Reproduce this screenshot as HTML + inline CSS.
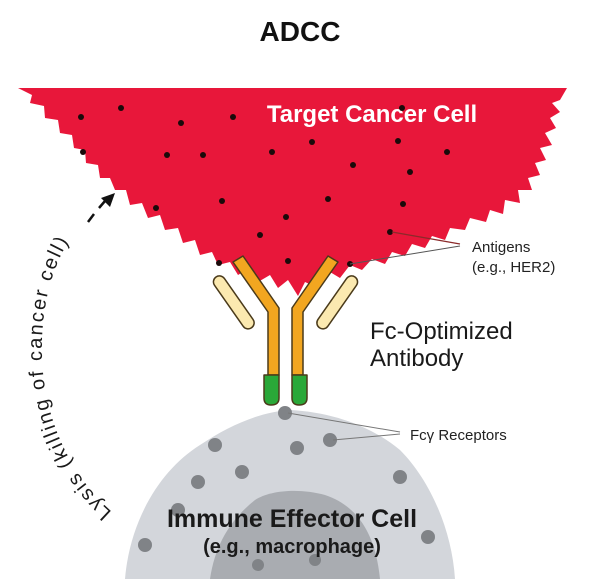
<!DOCTYPE html>
<html><head><meta charset="utf-8"><style>
html,body{margin:0;padding:0;background:#fff;}
svg{display:block;font-family:"Liberation Sans",sans-serif;}
</style></head><body>
<svg width="600" height="579" viewBox="0 0 600 579" xmlns="http://www.w3.org/2000/svg">
<text x="300" y="41" text-anchor="middle" font-size="28" font-weight="bold" fill="#111">ADCC</text>
<polygon fill="#e8173a" points="18,88 567,88 560,100 552,103 560,112 550,118 556,128 545,133 552,145 540,148 546,160 535,163 540,175 528,178 532,190 518,190 520,203 505,200 503,214 490,210 486,222 470,218 465,230 450,228 445,240 432,236 425,248 412,244 405,256 392,252 385,264 372,259 362,270 350,265 340,278 330,272 318,288 305,282 298,296 288,280 278,288 270,275 258,282 250,268 238,275 230,262 218,265 212,252 200,255 195,240 183,243 178,228 165,230 160,215 148,218 142,203 130,205 126,190 115,190 110,178 100,178 98,165 86,163 85,150 74,148 72,135 60,133 58,120 45,118 44,106 30,103 32,95"/>
<text x="372" y="122" text-anchor="middle" font-size="24" font-weight="bold" fill="#fff">Target Cancer Cell</text>
<g fill="#1a0a0a">
<circle cx="81" cy="117" r="3"/><circle cx="121" cy="108" r="3"/><circle cx="181" cy="123" r="3"/><circle cx="233" cy="117" r="3"/><circle cx="402" cy="108" r="3"/>
<circle cx="83" cy="152" r="3"/><circle cx="167" cy="155" r="3"/><circle cx="203" cy="155" r="3"/><circle cx="272" cy="152" r="3"/><circle cx="312" cy="142" r="3"/><circle cx="398" cy="141" r="3"/><circle cx="447" cy="152" r="3"/>
<circle cx="353" cy="165" r="3"/><circle cx="410" cy="172" r="3"/><circle cx="156" cy="208" r="3"/><circle cx="222" cy="201" r="3"/><circle cx="328" cy="199" r="3"/><circle cx="403" cy="204" r="3"/><circle cx="286" cy="217" r="3"/><circle cx="260" cy="235" r="3"/><circle cx="390" cy="232" r="3"/>
<circle cx="219" cy="263" r="3"/><circle cx="288" cy="261" r="3"/><circle cx="350" cy="264" r="3"/>
</g>
<polyline points="392,232 460,244" fill="none" stroke="#8b2a2a" stroke-width="1.2"/>
<polyline points="350,264 460,246" fill="none" stroke="#555" stroke-width="1"/>
<text x="472" y="252" font-size="15" fill="#222">Antigens</text>
<text x="472" y="272" font-size="15" fill="#222">(e.g., HER2)</text>
<path d="M125,579 C130,520 160,470 200,445 C230,425 260,412 290,410 C330,412 370,425 400,450 C430,480 452,530 455,579 Z" fill="#d3d6db"/>
<path d="M210,579 C215,545 230,520 255,500 C270,490 300,488 325,495 C355,505 375,530 380,579 Z" fill="#a9acb1"/>
<g fill="#808387">
<circle cx="285" cy="413" r="7"/><circle cx="215" cy="445" r="7"/><circle cx="297" cy="448" r="7"/><circle cx="330" cy="440" r="7"/><circle cx="242" cy="472" r="7"/><circle cx="198" cy="482" r="7"/><circle cx="400" cy="477" r="7"/><circle cx="178" cy="510" r="7"/><circle cx="145" cy="545" r="7"/><circle cx="428" cy="537" r="7"/><circle cx="258" cy="565" r="6"/><circle cx="315" cy="560" r="6"/>
</g>
<polyline points="288,413 400,432" fill="none" stroke="#777" stroke-width="1"/>
<polyline points="333,440 400,434" fill="none" stroke="#777" stroke-width="1"/>
<text x="410" y="440" font-size="15" fill="#222">Fcγ Receptors</text>
<text x="292" y="527" text-anchor="middle" font-size="25" font-weight="bold" fill="#1a1a1a">Immune Effector Cell</text>
<text x="292" y="553" text-anchor="middle" font-size="20" font-weight="bold" fill="#1a1a1a">(e.g., macrophage)</text>
<g stroke="#4a3a1a" stroke-width="1.5" stroke-linejoin="round">
<path d="M233,262 L268,312 L268,375 L279,375 L279,308 L243,256 Z" fill="#f2a620"/>
<path d="M338,262 L303,312 L303,375 L292,375 L292,308 L328,256 Z" fill="#f2a620"/>
<path d="M264,375 L279,375 L279,398 Q279,405 271,405 Q264,405 264,398 Z" fill="#2aa838"/>
<path d="M292,375 L307,375 L307,398 Q307,405 299,405 Q292,405 292,398 Z" fill="#2aa838"/>
<g fill="#fbe9b0"><rect x="-6" y="0" width="12" height="62" rx="6" transform="translate(216,277) rotate(-35)"/>
<rect x="-6" y="0" width="12" height="62" rx="6" transform="translate(355,277) rotate(35)"/></g>
</g>
<text x="370" y="339" font-size="24" fill="#1a1a1a">Fc-Optimized</text>
<text x="370" y="366" font-size="24" fill="#1a1a1a">Antibody</text>
<defs><path id="arc" d="M112,512 C70,475 45,420 42,360 C40,300 55,255 82,222"/></defs>
<text font-size="20" fill="#1a1a1a"><textPath href="#arc" textLength="295" lengthAdjust="spacing">Lysis (killing of cancer cell)</textPath></text>
<path d="M88,222 L94,214 M99,208 L105,201" stroke="#111" stroke-width="2.5"/>
<polygon points="115,193 101,198 110,207" fill="#111"/>
</svg>
</body></html>
